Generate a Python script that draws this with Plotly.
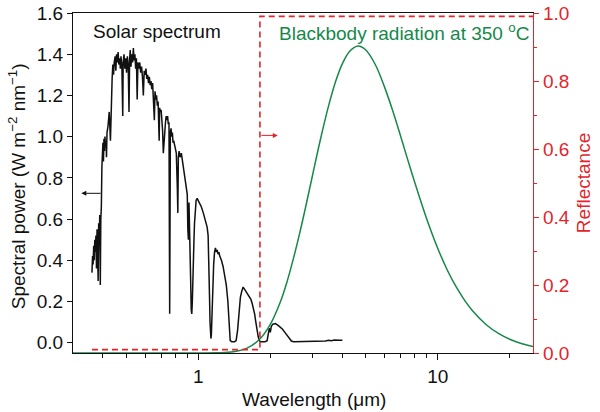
import numpy as np
import plotly.graph_objects as go

# solar spectrum (left axis)
SOLAR_WL = [
    0.360, 0.362, 0.364, 0.366, 0.368, 0.370, 0.372, 0.374, 0.376, 0.378,
    0.380, 0.382, 0.384, 0.386, 0.388, 0.390, 0.392, 0.394, 0.396, 0.398,
    0.400, 0.402, 0.404, 0.406, 0.408, 0.410, 0.412, 0.414, 0.416, 0.420,
    0.425, 0.430, 0.433, 0.437, 0.440, 0.443, 0.446, 0.450, 0.453, 0.456,
    0.460, 0.463, 0.466, 0.470, 0.473, 0.476, 0.480, 0.484, 0.486, 0.490,
    0.494, 0.498, 0.502, 0.506, 0.510, 0.514, 0.517, 0.520, 0.524, 0.528,
    0.532, 0.536, 0.540, 0.544, 0.548, 0.552, 0.556, 0.560, 0.565, 0.570,
    0.575, 0.580, 0.585, 0.590, 0.595, 0.600, 0.605, 0.610, 0.615, 0.620,
    0.625, 0.630, 0.635, 0.640, 0.645, 0.650, 0.656, 0.660, 0.665, 0.670,
    0.675, 0.680, 0.687, 0.690, 0.695, 0.700, 0.705, 0.710, 0.715, 0.720,
    0.725, 0.730, 0.735, 0.740, 0.745, 0.750, 0.755, 0.760, 0.765, 0.770,
    0.775, 0.780, 0.785, 0.790, 0.800, 0.810, 0.818, 0.822, 0.826, 0.832,
    0.840, 0.850, 0.860, 0.870, 0.880, 0.890, 0.900, 0.905, 0.910, 0.915,
    0.920, 0.925, 0.930, 0.935, 0.940, 0.945, 0.950, 0.955, 0.960, 0.965,
    0.970, 0.980, 0.990, 1.000, 1.010, 1.030, 1.050, 1.070, 1.090, 1.100,
    1.105, 1.110, 1.115, 1.120, 1.125, 1.130, 1.135, 1.140, 1.145, 1.150,
    1.160, 1.170, 1.180, 1.190, 1.200, 1.210, 1.220, 1.230, 1.240, 1.250,
    1.270, 1.290, 1.310, 1.330, 1.340, 1.350, 1.360, 1.380, 1.400, 1.420,
    1.440, 1.460, 1.480, 1.500, 1.520, 1.540, 1.560, 1.580, 1.600, 1.620,
    1.640, 1.660, 1.680, 1.700, 1.720, 1.740, 1.760, 1.780, 1.800, 1.820,
    1.900, 1.940, 1.960, 1.980, 2.000, 2.020, 2.050, 2.100, 2.150, 2.200,
    2.250, 2.300, 2.350, 2.400, 2.450, 2.500, 2.600, 2.800, 3.000, 3.200,
    3.400, 3.500, 3.600, 3.700, 3.800, 3.900, 4.000,
]
SOLAR_PW = [
    0.34, 0.42, 0.38, 0.47, 0.40, 0.50, 0.44, 0.52, 0.36, 0.55,
    0.45, 0.30, 0.58, 0.50, 0.62, 0.28, 0.60, 0.66, 0.85, 0.92,
    0.97, 0.88, 0.99, 0.93, 1.00, 0.95, 0.98, 0.90, 1.02, 1.05,
    1.12, 0.98, 1.20, 1.28, 1.35, 1.30, 1.36, 1.39, 1.32, 1.40,
    1.36, 1.41, 1.35, 1.38, 1.33, 1.39, 1.34, 1.10, 1.36, 1.40,
    1.33, 1.38, 1.31, 1.39, 1.35, 1.12, 1.37, 1.42, 1.34, 1.40,
    1.36, 1.43, 1.37, 1.40, 1.33, 1.38, 1.18, 1.36, 1.33, 1.36,
    1.31, 1.34, 1.29, 1.20, 1.32, 1.30, 1.33, 1.28, 1.30, 1.26,
    1.29, 1.25, 1.27, 1.23, 1.26, 1.20, 1.08, 1.22, 1.18, 1.20,
    1.15, 1.17, 0.98, 1.14, 1.12, 1.13, 1.08, 1.03, 0.92, 0.98,
    1.05, 1.07, 1.10, 1.08, 1.10, 1.06, 1.07, 0.14, 1.02, 1.04,
    1.00, 1.02, 0.97, 0.98, 0.95, 0.92, 0.75, 0.63, 0.90, 0.93,
    0.90, 0.92, 0.88, 0.84, 0.80, 0.76, 0.72, 0.55, 0.50, 0.68,
    0.58, 0.52, 0.30, 0.16, 0.14, 0.20, 0.35, 0.30, 0.50, 0.58,
    0.62, 0.69, 0.70, 0.69, 0.68, 0.66, 0.63, 0.60, 0.56, 0.52,
    0.45, 0.35, 0.22, 0.10, 0.05, 0.02, 0.04, 0.12, 0.22, 0.30,
    0.38, 0.44, 0.46, 0.44, 0.45, 0.43, 0.44, 0.42, 0.41, 0.40,
    0.37, 0.33, 0.28, 0.20, 0.12, 0.05, 0.01, 0.005, 0.005, 0.005,
    0.01, 0.06, 0.14, 0.22, 0.25, 0.27, 0.26, 0.25, 0.24, 0.23,
    0.22, 0.21, 0.19, 0.17, 0.14, 0.10, 0.06, 0.03, 0.01, 0.005,
    0.005, 0.01, 0.04, 0.07, 0.05, 0.08, 0.09, 0.093, 0.085, 0.075,
    0.065, 0.05, 0.035, 0.02, 0.008, 0.005, 0.005, 0.005, 0.006, 0.005,
    0.008, 0.012, 0.010, 0.013, 0.011, 0.012, 0.012,
]

# blackbody radiation at 350 oC (right axis, normalised)
BB_WL = [0.3, 1.0, 1.2, 1.4, 1.6, 1.8, 2.0, 2.2, 2.35, 2.5, 2.65, 2.8, 3.0,
         3.25, 3.5, 3.75, 4.0, 4.3, 4.65, 5.0, 5.5, 6.0, 6.5, 7.0, 7.5, 8.0,
         9.0, 10.0, 11.0, 12.0, 13.0, 14.0, 16.0, 18.0, 20.0, 22.0, 25.0]
BB_VAL = [0.0, 0.0, 0.0005, 0.0036, 0.0144, 0.0396, 0.0843, 0.149, 0.210,
          0.279, 0.351, 0.425, 0.522, 0.633, 0.726, 0.799, 0.851, 0.888,
          0.903, 0.892, 0.847, 0.782, 0.711, 0.638, 0.568, 0.504, 0.394,
          0.308, 0.242, 0.192, 0.1535, 0.1237, 0.0825, 0.0568, 0.0403,
          0.0292, 0.0188]

# ideal reflectance step (right axis)
REFL_WL = [0.36, 1.81, 1.81, 25.0]
REFL_VAL = [0.01, 0.01, 0.99, 0.99]

RED = "#e3242b"
GREEN = "#15884a"
FONT = "Arial, Liberation Sans, sans-serif"


def main():
    fig = go.Figure()

    fig.add_trace(go.Scatter(
        x=SOLAR_WL, y=SOLAR_PW, mode="lines",
        line=dict(color="#111111", width=1.5), yaxis="y",
    ))
    fig.add_trace(go.Scatter(
        x=BB_WL, y=BB_VAL, mode="lines", line_shape="spline",
        line=dict(color=GREEN, width=1.5), yaxis="y2",
    ))
    fig.add_trace(go.Scatter(
        x=REFL_WL, y=REFL_VAL, mode="lines",
        line=dict(color=RED, width=1.6, dash="6px,4px"), yaxis="y2",
    ))

    # direction arrows
    fig.add_annotation(
        x=np.log10(0.325), y=0.725, ax=np.log10(0.397), ay=0.725,
        xref="x", yref="y", axref="x", ayref="y", text="",
        showarrow=True, arrowhead=2, arrowsize=1, arrowwidth=1,
        arrowcolor="#111111",
    )
    fig.add_annotation(
        x=np.log10(2.15), y=0.64, ax=np.log10(1.81), ay=0.64,
        xref="x", yref="y2", axref="x", ayref="y2", text="",
        showarrow=True, arrowhead=2, arrowsize=1, arrowwidth=1,
        arrowcolor=RED,
    )

    # labels
    fig.add_annotation(
        x=0.039, y=0.945, xref="paper", yref="paper", xanchor="left",
        yanchor="middle", text="Solar spectrum", showarrow=False,
        font=dict(size=19, color="#111111", family=FONT),
    )
    fig.add_annotation(
        x=0.995, y=0.945, xref="paper", yref="paper", xanchor="right",
        yanchor="middle", text="Blackbody radiation at 350 <sup>o</sup>C",
        showarrow=False, font=dict(size=19, color=GREEN, family=FONT),
    )

    # axis titles
    fig.add_annotation(
        x=0.524, y=-0.138, xref="paper", yref="paper", yanchor="middle",
        text="Wavelength (\u03bcm)", showarrow=False,
        font=dict(size=19, color="#111111", family=FONT),
    )
    fig.add_annotation(
        x=-0.12, y=0.49, xref="paper", yref="paper", textangle=-90,
        xanchor="center", yanchor="middle",
        text="Spectral power (W m<sup>\u22122</sup> nm<sup>\u22121</sup>)",
        showarrow=False, font=dict(size=19, color="#111111", family=FONT),
    )
    fig.add_annotation(
        x=1.109, y=0.5, xref="paper", yref="paper", textangle=-90,
        xanchor="center", yanchor="middle", text="Reflectance",
        showarrow=False, font=dict(size=19, color=RED, family=FONT),
    )

    fig.update_layout(
        width=600, height=412,
        margin=dict(l=73, r=67, t=13, b=59),
        plot_bgcolor="white", paper_bgcolor="white",
        showlegend=False,
        font=dict(family=FONT, size=19, color="#111111"),
        xaxis=dict(
            type="log", range=[np.log10(0.3), np.log10(25)],
            tickvals=[1, 10], ticktext=["1", "10"],
            ticks="outside", ticklen=6, tickwidth=1, tickcolor="#111111",
            minor=dict(
                tickvals=[0.4, 0.5, 0.6, 0.7, 0.8, 0.9, 2, 3, 4, 5, 6, 7, 8, 9, 20],
                ticks="outside", ticklen=4, tickcolor="#111111", showgrid=False,
            ),
            showline=True, linecolor="#111111", linewidth=1.2, mirror=True,
            showgrid=False, zeroline=False, automargin=False,
        ),
        yaxis=dict(
            range=[-0.05, 1.6], tickvals=[0, 0.2, 0.4, 0.6, 0.8, 1.0, 1.2, 1.4, 1.6],
            tickformat=".1f", ticks="outside", ticklen=5, tickcolor="#111111",
            showline=True, linecolor="#111111", linewidth=1.2,
            showgrid=False, zeroline=False, automargin=False,
        ),
        yaxis2=dict(
            overlaying="y", side="right", range=[0, 1.0],
            tickvals=[0, 0.2, 0.4, 0.6, 0.8, 1.0], tickformat=".1f",
            ticks="outside", ticklen=5, tickcolor=RED,
            minor=dict(tickvals=[0.1, 0.3, 0.5, 0.7, 0.9], ticks="outside",
                       ticklen=3, tickcolor=RED, showgrid=False),
            tickfont=dict(color=RED, size=19),
            showline=True, linecolor=RED, linewidth=1.2,
            showgrid=False, zeroline=False, automargin=False,
        ),
    )

    # the page's default body margin would push the 600x412 figure off-screen
    fig.write_html(
        "out.html",
        config={"displayModeBar": False},
        post_script="document.body.style.margin='0';",
    )


if __name__ == "__main__":
    main()
